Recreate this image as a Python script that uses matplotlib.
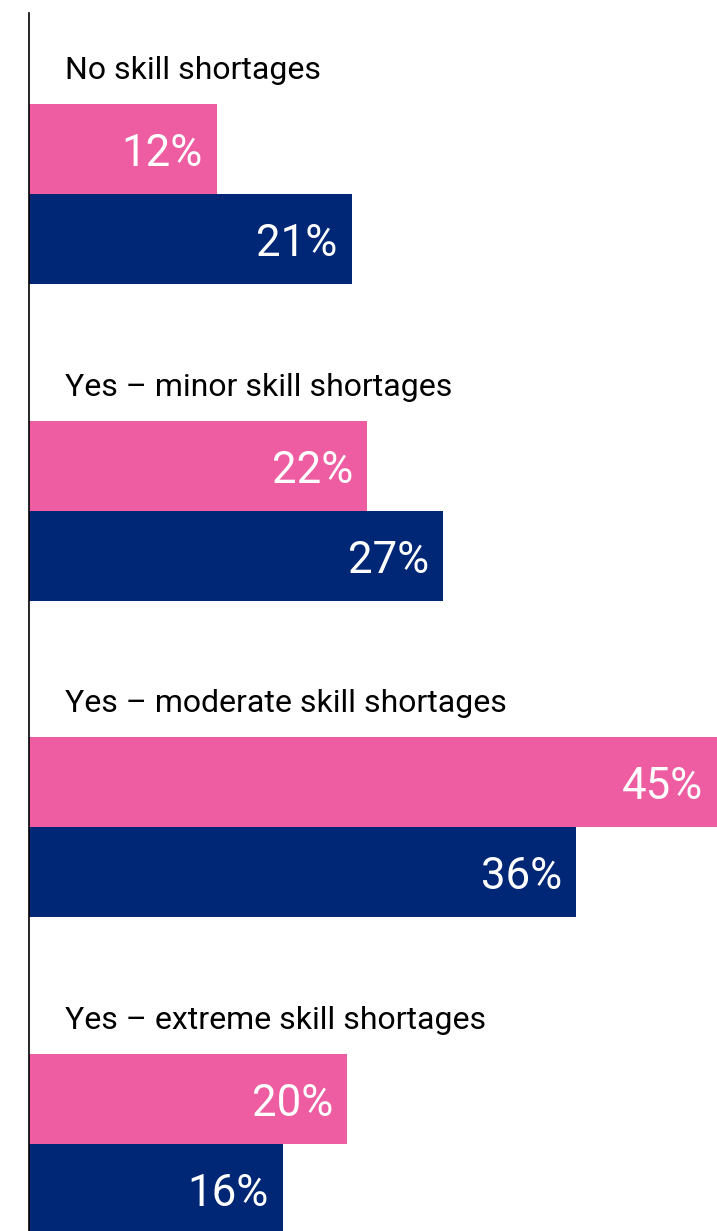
import matplotlib
matplotlib.use("Agg")
import matplotlib.pyplot as plt

categories = ["No skill shortages", "Yes \u2013 minor skill shortages",
              "Yes \u2013 moderate skill shortages", "Yes \u2013 extreme skill shortages"]
pink_values = [12.3, 22.1, 45.0, 20.8]
navy_values = [21.1, 27.1, 35.8, 16.6]
pink_labels = ["12%", "22%", "45%", "20%"]
navy_labels = ["21%", "27%", "36%", "16%"]

PINK = "#EE5CA1"
NAVY = "#002776"

plt.rcParams['font.family'] = ['Roboto', 'DejaVu Sans']

W, H = 717, 1231
fig = plt.figure(figsize=(W / 100, H / 100), dpi=100)
ax = fig.add_axes([29 / W, 0, 688 / W, 1218 / H])

bh = 90 / 316.7
ypos = list(range(len(categories)))
pink_y = [y - bh / 2 for y in ypos]
navy_y = [y + bh / 2 for y in ypos]

ax.barh(pink_y, pink_values, height=bh, color=PINK, edgecolor='none')
ax.barh(navy_y, navy_values, height=bh, color=NAVY, edgecolor='none')

for yy, v, lab in zip(pink_y, pink_values, pink_labels):
    ax.annotate(lab, (v, yy), xytext=(-14, -17), textcoords='offset pixels',
                ha='right', va='baseline', color='white', fontsize=31.5)
for yy, v, lab in zip(navy_y, navy_values, navy_labels):
    ax.annotate(lab, (v, yy), xytext=(-14, -17), textcoords='offset pixels',
                ha='right', va='baseline', color='white', fontsize=31.5)

for y, cat in zip(ypos, categories):
    ax.annotate(cat, (0, y - bh), xytext=(36, 25), textcoords='offset pixels',
                ha='left', va='baseline', color='black', fontsize=23)

ax.set_xlim(0, 45)
ax.set_ylim(3.274, -0.5715)
for s in ['top', 'right', 'bottom']:
    ax.spines[s].set_visible(False)
ax.spines['left'].set_color('black')
ax.spines['left'].set_linewidth(1.2)
ax.set_xticks([])
ax.set_yticks([])
ax.patch.set_alpha(0)

fig.savefig("out.png", dpi=100)
